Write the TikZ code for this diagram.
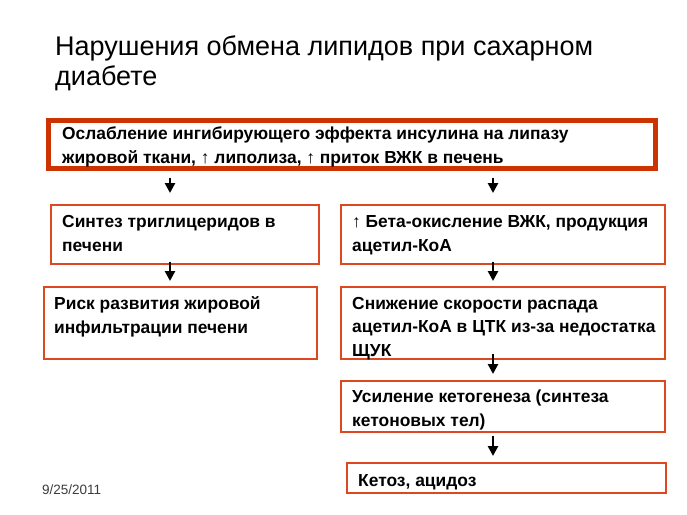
\documentclass[tikz,border=0pt]{standalone}
\usepackage{fontspec}
\setmainfont{Liberation Sans}
\usetikzlibrary{arrows.meta, positioning}
\definecolor{topred}{RGB}{204,51,0}
\definecolor{boxred}{RGB}{222,72,32}
\definecolor{dategray}{RGB}{60,60,60}

\begin{document}
\begin{tikzpicture}[
        x=1pt, y=-1pt,
        >={Triangle[length=10pt, width=10pt]},
        box/.style={draw=boxred, line width=1.6pt, anchor=north west, inner sep=0pt},
        topbox/.style={box, draw=topred, line width=5pt},
        txt/.style={anchor=base west, inner sep=0pt, align=left, font=\fontsize{17.4}{23.3}\selectfont\bfseries},
        arr/.style={->, line width=2.5pt}
    ]
        \useasboundingbox (0,0) rectangle (687,514);

        % title and date (base = last line)
        \node[anchor=base west, inner sep=0pt, align=left, font=\fontsize{27}{30}\selectfont] (title) at (55,85)
            {Нарушения обмена липидов при сахарном\\диабете};
        \node[anchor=base west, inner sep=0pt, font=\fontsize{13.5}{15}\selectfont, text=dategray] (date) at (42,494) {9/25/2011};

        \node[topbox, minimum width=607pt, minimum height=48pt] (top) at (45.5,117.5) {};
        \node[box, minimum width=268pt, minimum height=59pt] (synth) at (50,204) {};
        \node[box, minimum width=324pt, minimum height=59pt] (beta) at (340,204) {};
        \node[box, minimum width=273pt, minimum height=72pt] (risk) at (43,286) {};
        \node[box, minimum width=324pt, minimum height=72pt] (tca) at (340,286) {};
        \node[box, minimum width=324pt, minimum height=51pt] (keto) at (340,380) {};
        \node[box, minimum width=319pt, minimum height=30pt] (acid) at (346,462) {};

        \node[txt] (ttop) at (62,163) {Ослабление ингибирующего эффекта инсулина на липазу\\жировой ткани, ↑ липолиза, ↑ приток ВЖК в печень};
        \node[txt] (tsynth) at (62,251) {Синтез триглицеридов в\\печени};
        \node[txt] (tbeta) at (352,251) {↑ Бета-окисление ВЖК, продукция\\ацетил-КоА};
        \node[txt] (trisk) at (54,333) {Риск развития жировой\\инфильтрации печени};
        \node[txt] (ttca) at (352,356) {Снижение скорости распада\\ацетил-КоА в ЦТК из-за недостатка\\ЩУК};
        \node[txt] (tketo) at (352,426) {Усиление кетогенеза (синтеза\\кетоновых тел)};
        \node[txt] (tacid) at (358,486) {Кетоз, ацидоз};

        \coordinate (lx) at (170,0);
        \coordinate (rx) at (493,0);

        \draw[arr, shorten <=7pt, shorten >=11pt] (top.south -| lx) -- (synth.north -| lx);
        \draw[arr, shorten <=7pt, shorten >=11pt] (top.south -| rx) -- (beta.north -| rx);
        \draw[arr, shorten <=-3pt, shorten >=5pt] (synth.south -| lx) -- (risk.north -| lx);
        \draw[arr, shorten <=-3pt, shorten >=5pt] (beta.south -| rx) -- (tca.north -| rx);
        \draw[arr, shorten <=-6pt, shorten >=6pt] (tca.south -| rx) -- (keto.north -| rx);
        \draw[arr, shorten <=3pt, shorten >=6pt] (keto.south -| rx) -- (acid.north -| rx);
    \end{tikzpicture}
\end{document}
